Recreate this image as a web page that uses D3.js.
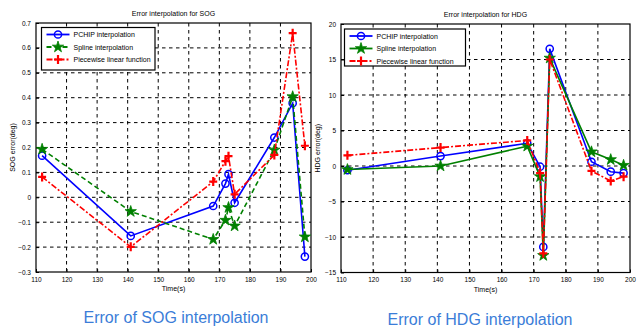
<!DOCTYPE html>
<html><head><meta charset="utf-8">
<script src="https://cdn.jsdelivr.net/npm/d3@7/dist/d3.min.js"></script>
<style>body{margin:0;background:#fff}svg{display:block;font-family:"Liberation Sans",Arial,sans-serif}</style>
</head><body><svg id="c" width="638" height="330"></svg>
<script>
const times = [112, 141, 168, 172, 173, 175, 188, 194, 198];
const sogPchip  = [0.167, -0.155, -0.035, 0.055, 0.093, -0.022, 0.24, 0.378, -0.238];
const sogSpline = [0.193, -0.057, -0.169, -0.092, -0.041, -0.115, 0.19, 0.404, -0.159];
const sogLinear = [0.082, -0.199, 0.063, 0.145, 0.165, 0.012, 0.17, 0.659, 0.207];
const hdgPchip  = [-0.6, 1.4, 3.2, -0.1, -11.4, 16.5, 0.6, -0.8, -1.0];
const hdgSpline = [-0.5, 0.0, 2.8, -1.5, -12.6, 15.2, 2.0, 0.9, 0.1];
const hdgLinear = [1.5, 2.6, 3.6, -1.0, -12.3, 15.0, -0.7, -2.1, -1.5];
const xTicks = [110,120,130,140,150,160,170,180,190,200];
const sogTicks = [-0.3,-0.2,-0.1,0,0.1,0.2,0.3,0.4,0.5,0.6,0.7];
const hdgTicks = [-15,-10,-5,0,5,10,15,20];
const seriesNames = ["PCHIP interpolation","Spline interpolation","Piecewise linear function"];

const svg = d3.select("#c");
const colors = ["#0000ff","#008000","#ff0000"];

function panel(o){
  const g = svg.append("g");
  const x = d3.scaleLinear().domain([110,200]).range([o.l,o.r]);
  const y = d3.scaleLinear().domain(o.yd).range([o.b,o.t]);
  // grid
  g.append("g").selectAll("line").data(xTicks.slice(1,-1)).join("line")
    .attr("x1",d=>x(d)).attr("x2",d=>x(d)).attr("y1",o.t).attr("y2",o.b)
    .attr("stroke","#000").attr("stroke-width",1).attr("stroke-dasharray","3.5,3.5");
  g.append("g").selectAll("line").data(o.ticks.slice(1,-1)).join("line")
    .attr("y1",d=>y(d)).attr("y2",d=>y(d)).attr("x1",o.l).attr("x2",o.r)
    .attr("stroke","#000").attr("stroke-width",1).attr("stroke-dasharray","3.5,3.5");
  // axes
  const ax = g.append("g").attr("transform",`translate(0,${o.b})`)
    .call(d3.axisBottom(x).tickValues(xTicks).tickSize(-3).tickPadding(5));
  const ay = g.append("g").attr("transform",`translate(${o.l},0)`)
    .call(d3.axisLeft(y).tickValues(o.ticks).tickSize(-3).tickPadding(5).tickFormat(o.fmt));
  [ax,ay].forEach(a=>{a.select(".domain").remove();a.selectAll("text").attr("font-size",6.5).attr("fill","#000");a.selectAll("line").attr("stroke","#000");});
  g.append("rect").attr("x",o.l).attr("y",o.t).attr("width",o.r-o.l).attr("height",o.b-o.t)
    .attr("fill","none").attr("stroke","#000").attr("stroke-width",1.2);
  // lines
  const line = d3.line().x((d,i)=>x(times[i])).y(d=>y(d));
  o.data.forEach((ser,k)=>{
    g.append("path").attr("d",line(ser)).attr("fill","none").attr("stroke",colors[k])
      .attr("stroke-width",1.6).attr("stroke-dasharray",o.dash[k]);
    const m = g.append("g");
    ser.forEach((v,i)=>marker(m,k,x(times[i]),y(v)));
  });
  // title & labels
  g.append("text").attr("x",(o.l+o.r)/2).attr("y",o.t-7).attr("text-anchor","middle")
    .attr("font-size",7).text(o.title);
  g.append("text").attr("x",(o.l+o.r)/2).attr("y",o.b+19).attr("text-anchor","middle")
    .attr("font-size",7).text("Time(s)");
  g.append("text").attr("transform",`translate(${o.l-21},${(o.t+o.b)/2}) rotate(-90)`)
    .attr("text-anchor","middle").attr("font-size",7).text(o.ylab);
  // legend
  const lg = g.append("g");
  lg.append("rect").attr("x",o.lg.x).attr("y",o.lg.y).attr("width",o.lg.w).attr("height",o.lg.h)
    .attr("fill","#fff").attr("stroke","#000").attr("stroke-width",1.2);
  seriesNames.forEach((n,k)=>{
    const yy = o.lg.y + 7 + k*12.5;
    lg.append("line").attr("x1",o.lg.x+5).attr("x2",o.lg.x+28).attr("y1",yy).attr("y2",yy)
      .attr("stroke",colors[k]).attr("stroke-width",1.8).attr("stroke-dasharray",o.dash[k]);
    marker(lg,k,o.lg.x+16.5,yy);
    lg.append("text").attr("x",o.lg.x+32).attr("y",yy+2.5).attr("font-size",7).text(n);
  });
}
function marker(g,k,cx,cy){
  if(k===0){
    g.append("circle").attr("cx",cx).attr("cy",cy).attr("r",3.6).attr("fill","none")
      .attr("stroke",colors[0]).attr("stroke-width",1.5);
  } else if(k===1){
    g.append("path").attr("d",d3.symbol(d3.symbolStar,40)()).attr("transform",`translate(${cx},${cy})`)
      .attr("fill",colors[1]).attr("stroke",colors[1]).attr("stroke-width",0.8);
  } else {
    g.append("path").attr("d",`M${cx-4},${cy}H${cx+4}M${cx},${cy-4.5}V${cy+4.5}`)
      .attr("stroke",colors[2]).attr("stroke-width",2.2);
  }
}
panel({l:36,r:311,t:23,b:272,yd:[-0.3,0.7],ticks:sogTicks,fmt:d=>d===0?"0":d3.format(".1f")(d),
  data:[sogPchip,sogSpline,sogLinear],dash:[null,"5,3","6,2,2,2"],
  title:"Error interpolation for SOG",ylab:"SOG error(deg)",lg:{x:41.5,y:27.5,w:113.5,h:42.5}});
panel({l:341,r:630,t:24,b:272.5,yd:[-15,20],ticks:hdgTicks,fmt:d3.format("d"),
  data:[hdgPchip,hdgSpline,hdgLinear],dash:[null,null,"6,2,2,2"],
  title:"Error interpolation for HDG",ylab:"HDG error(deg)",lg:{x:344.5,y:29,w:121,h:37}});
svg.append("text").attr("x",176).attr("y",323).attr("text-anchor","middle").attr("font-size",16)
  .attr("fill","#3b7dd8").text("Error of SOG interpolation");
svg.append("text").attr("x",480).attr("y",325).attr("text-anchor","middle").attr("font-size",16)
  .attr("fill","#3b7dd8").text("Error of HDG interpolation");
</script></body></html>
